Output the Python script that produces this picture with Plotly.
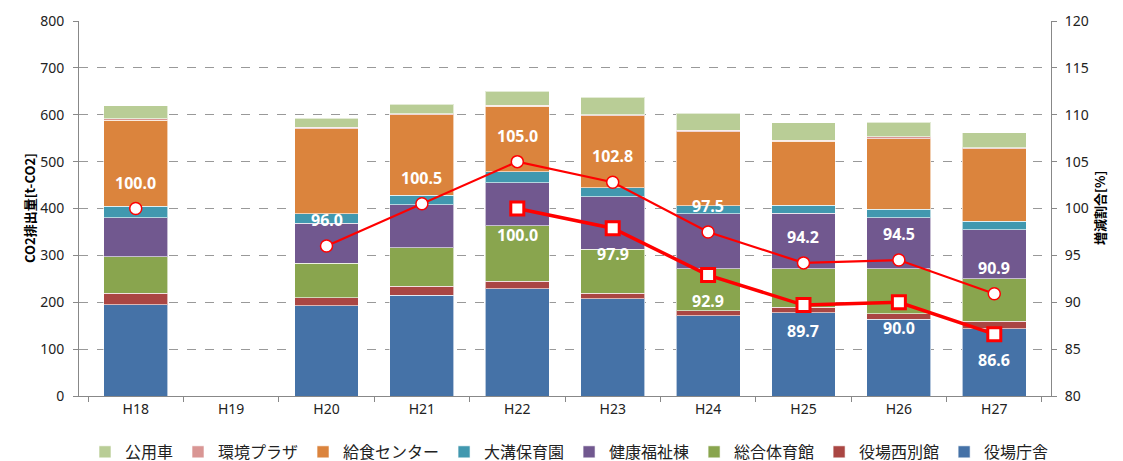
import plotly.graph_objects as go

years = ["H18", "H19", "H20", "H21", "H22", "H23", "H24", "H25", "H26", "H27"]

# stacked bar series, bottom to top [t-CO2]
chosha     = [195, None, 193, 215, 229, 207, 171, 178, 164, 143]
nishi      = [24, None, 17, 19, 16, 12, 11, 11, 12, 16]
taiikukan  = [78, None, 73, 82, 118, 94, 90, 83, 96, 91]
fukushi    = [83, None, 86, 92, 92, 112, 117, 118, 108, 105]
hoikuen    = [25, None, 20, 20, 23, 19, 17, 17, 18, 18]
kyushoku   = [183, None, 181, 172, 140, 154, 158, 136, 151, 154]
plaza      = [3, None, 3, 2, 2, 2, 3, 3, 4, 3]
koyosha    = [28, None, 20, 20, 30, 37, 36, 37, 31, 32]

# ratio lines [%]
ratio_h18 = [100.0, None, 96.0, 100.5, 105.0, 102.8, 97.5, 94.2, 94.5, 90.9]
ratio_h22 = [None, None, None, None, 100.0, 97.9, 92.9, 89.7, 90.0, 86.6]

series = [
    ("役場庁舎", chosha, "#4572A7"),
    ("役場西別館", nishi, "#AA4643"),
    ("総合体育館", taiikukan, "#89A54E"),
    ("健康福祉棟", fukushi, "#71588F"),
    ("大溝保育園", hoikuen, "#4198AF"),
    ("給食センター", kyushoku, "#DB843D"),
    ("環境プラザ", plaza, "#D99694"),
    ("公用車", koyosha, "#B9CD96"),
]

fig = go.Figure()
for name, vals, col in series:
    fig.add_trace(go.Bar(
        x=years, y=vals, name=name,
        marker=dict(color=col, line=dict(color="rgba(255,255,255,0.6)", width=1)),
    ))

fig.add_trace(go.Scatter(
    x=years, y=ratio_h18, yaxis="y2", mode="lines+markers", showlegend=False,
    connectgaps=False,
    line=dict(color="#FF0000", width=2.2),
    marker=dict(symbol="circle", size=12, color="white", line=dict(color="#FF0000", width=1.5)),
))
fig.add_trace(go.Scatter(
    x=years, y=ratio_h22, yaxis="y2", mode="lines+markers", showlegend=False,
    line=dict(color="#FF0000", width=3.5),
    marker=dict(symbol="square", size=13, color="white", line=dict(color="#FF0000", width=3)),
))

lab_font = dict(family="Noto Sans, Noto Sans CJK JP", size=16, color="white")
anns = []
for x, v in zip(years, ratio_h18):
    if v is not None:
        anns.append(dict(x=x, y=v, yref="y2", text="<b>%.1f</b>" % v, showarrow=False,
                         yshift=26, font=lab_font))
for x, v in zip(years, ratio_h22):
    if v is not None:
        anns.append(dict(x=x, y=v, yref="y2", text="<b>%.1f</b>" % v, showarrow=False,
                         yshift=-26, font=lab_font))

# axis titles as annotations (margins are fixed)
title_font = dict(family="Noto Sans CJK JP", size=13, color="black")
anns.append(dict(x=0, y=0.5, xref="paper", yref="paper", xshift=-61, textangle=-90,
                 text="<b>CO2排出量[t-CO2]</b>", showarrow=False, font=title_font))
anns.append(dict(x=1, y=0.5, xref="paper", yref="paper", xshift=60, textangle=-90,
                 text="<b>増減割合[%]</b>", showarrow=False, font=title_font))

tick_font = dict(family="Noto Sans, Noto Sans CJK JP", size=14, color="#222")

# the page body adds an 8px offset, margins compensate for it
fig.update_layout(
    width=1123, height=461,
    barmode="stack", bargap=0.33,
    plot_bgcolor="white", paper_bgcolor="white",
    margin=dict(l=71, r=80, t=13, b=73, autoexpand=False),
    font=tick_font,
    annotations=anns,
    xaxis=dict(
        showline=True, linecolor="#888", linewidth=1,
        ticks="outside", tickson="boundaries", ticklen=5, tickcolor="#888",
        tickfont=tick_font, automargin=False,
    ),
    yaxis=dict(
        range=[0, 800], dtick=100, showline=True, linecolor="#888", linewidth=1,
        ticks="outside", ticklen=5, tickcolor="#888", ticklabelstandoff=6,
        showgrid=True, gridcolor="#999", griddash="dash", gridwidth=1,
        zeroline=False, tickfont=tick_font, automargin=False,
    ),
    yaxis2=dict(
        range=[80, 120], dtick=5, overlaying="y", side="right",
        showline=True, linecolor="#888", linewidth=1,
        ticks="outside", ticklen=5, tickcolor="#888", ticklabelstandoff=5,
        showgrid=False, zeroline=False, tickfont=tick_font, automargin=False,
    ),
    legend=dict(
        orientation="h", x=0.5, xanchor="center", xref="container",
        y=0.037, yanchor="middle", yref="container",
        traceorder="reversed",
        font=dict(family="Noto Sans CJK JP", size=16, color="#222"),
    ),
)

fig.write_html("out.html")
